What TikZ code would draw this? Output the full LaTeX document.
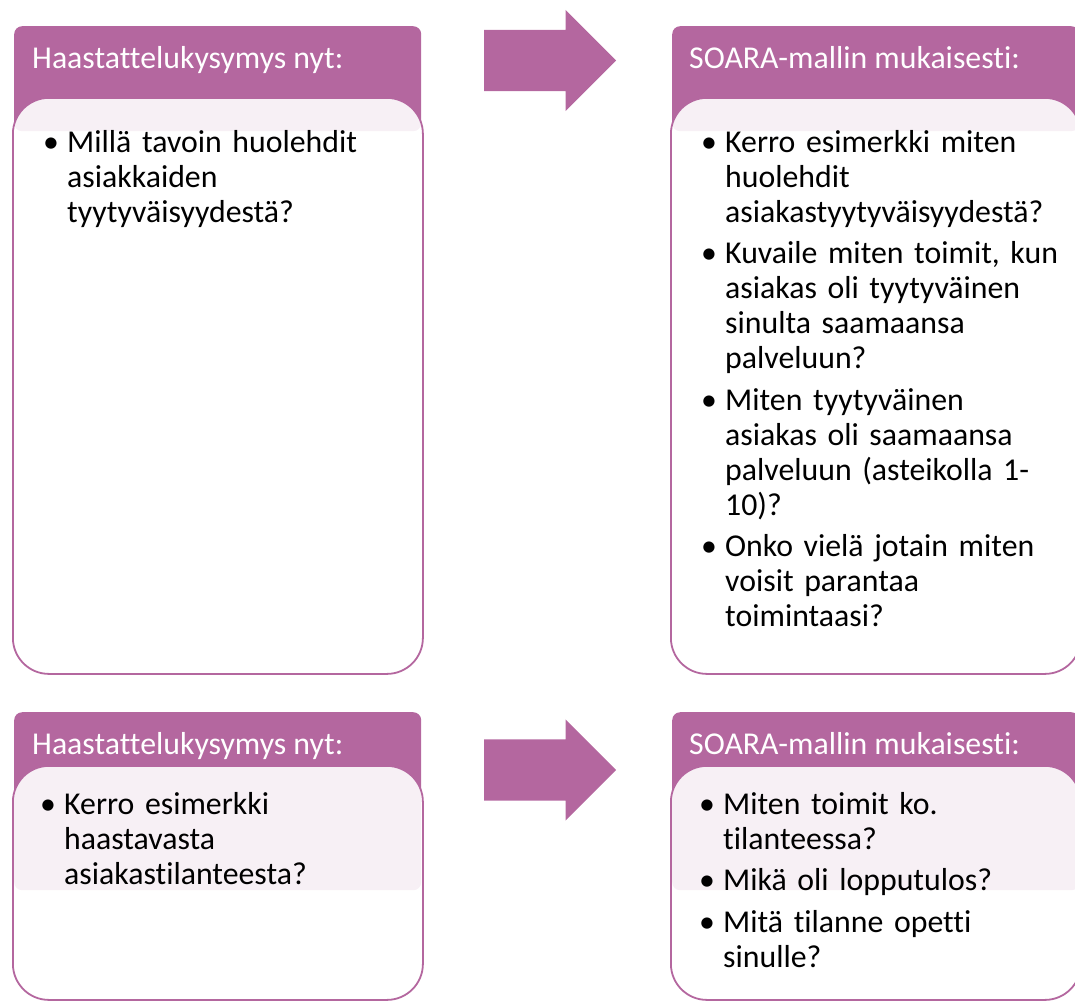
\documentclass[tikz,border=0pt]{standalone}
\usepackage{fontspec}
\setmainfont{Carlito}[Ligatures=NoCommon]
\usepackage{tikz}
\usetikzlibrary{positioning,shapes.arrows}
\definecolor{soara}{RGB}{180,103,159}
\tikzset{head/.style={fill=soara,rounded corners=8pt,minimum width=407pt,inner
sep=0pt,anchor=north west},body/.style={draw=soara,line width=1.8pt,fill=white,fill
opacity=0.9,rounded corners=36pt,minimum width=410pt,inner sep=0pt,anchor=north west}}
\newcommand{\bul}[1]{\noindent\hangindent=20pt\hangafter=1\makebox[20pt][l]{\kern-4pt\textbullet}#1\par}

\begin{document}
\begin{tikzpicture}[x=1pt,y=-1pt,htxt/.style={text=white,anchor=base west,inner sep=0pt,font=\fontsize{31.8pt}{35pt}\selectfont},btxt/.style={anchor=base west,inner sep=0pt,text width=380pt,font=\fontsize{31.8pt}{35pt}\selectfont,execute at begin node={\raggedright\setlength{\parskip}{6.5pt}}},arr/.style={single arrow,fill=soara,inner xsep=0pt,inner ysep=30.5pt,minimum height=132pt,single arrow head extend=20pt,single arrow tip angle=90,anchor=tail}]
			\useasboundingbox (0,0) rectangle (1075,1001);
			\clip (0,0) rectangle (1075,1001);

			\node[head,minimum height=105pt] (h1) at (14,26) {};
			\node[head,minimum height=105pt] (h2) at (672,26) {};
			\node[head,minimum height=178pt] (h3) at (14,712) {};
			\node[head,minimum height=178pt] (h4) at (672,712) {};

			\node[body,minimum height=576pt] (b1) at (12,97) {};
			\node[body,minimum height=576pt] (b2) at (670,97) {};
			\node[body,minimum height=234pt] (b3) at (12,765) {};
			\node[body,minimum height=234pt] (b4) at (670,765) {};

			\node[htxt] (l1) at (32,68) {Haastattelukysymys nyt:};
			\node[htxt] (l2) at (689,68) {SOARA-mallin mukaisesti:};
			\node[htxt] (l3) at (32,754) {Haastattelukysymys nyt:};
			\node[htxt] (l4) at (689,754) {SOARA-mallin mukaisesti:};

			\node[arr] (a1) at (484,60.5) {};
			\node[arr] (a2) at (484,770) {};

			\node[btxt] (t1) at (47,152) {\bul{Millä tavoin huolehdit\newline asiakkaiden\newline tyytyväisyydestä?}};
			\node[btxt] (t2) at (705,152) {\bul{Kerro esimerkki miten\newline huolehdit\newline asiakastyytyväisyydestä?}
				\bul{Kuvaile miten toimit, kun\newline asiakas oli tyytyväinen\newline sinulta saamaansa\newline palveluun?}
				\bul{Miten tyytyväinen\newline asiakas oli saamaansa\newline palveluun (asteikolla 1-\newline 10)?}
				\bul{Onko vielä jotain miten\newline voisit parantaa\newline toimintaasi?}};
			\node[btxt] (t3) at (44,814) {\bul{Kerro esimerkki\newline haastavasta\newline asiakastilanteesta?}};
			\node[btxt] (t4) at (703,814) {\bul{Miten toimit ko.\newline tilanteessa?}
				\bul{Mikä oli lopputulos?}
				\bul{Mitä tilanne opetti\newline sinulle?}};
		\end{tikzpicture}
\end{document}
